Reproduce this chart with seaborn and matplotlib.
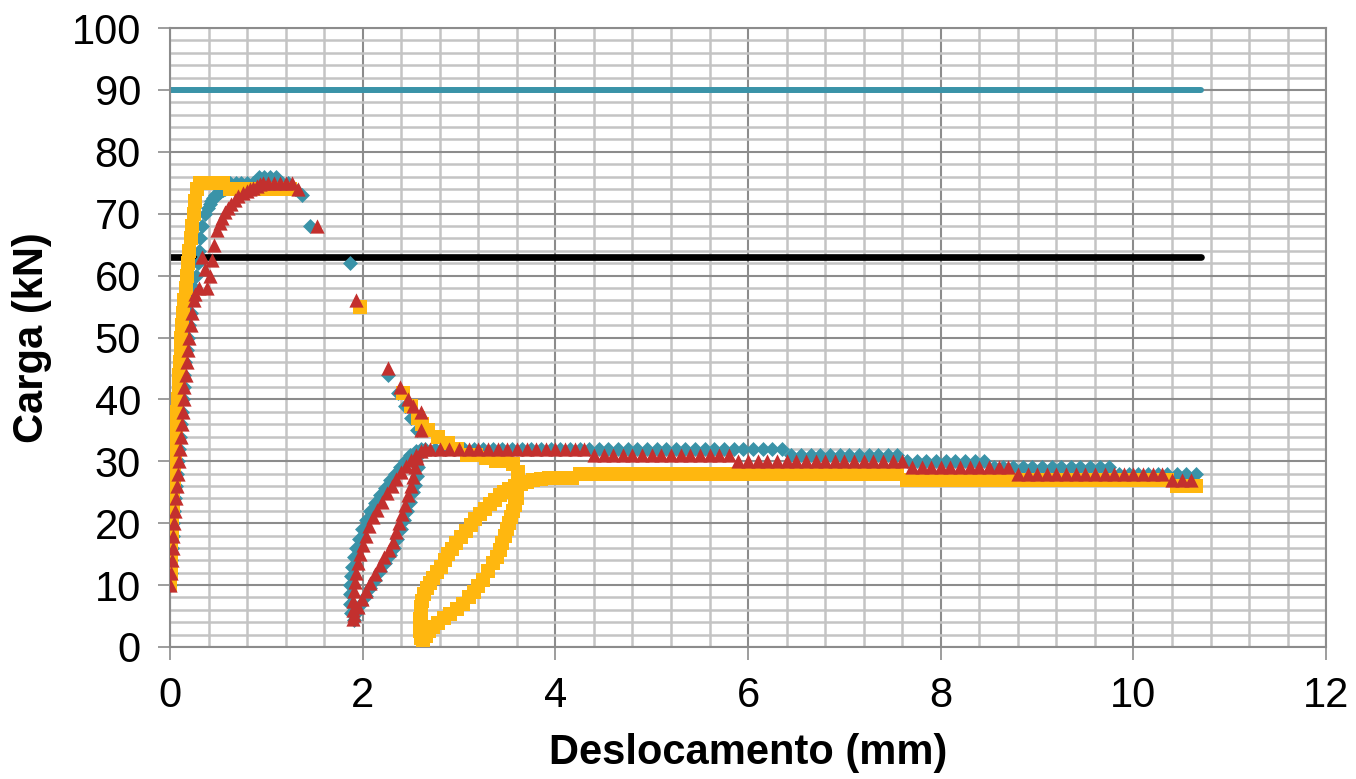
import seaborn as sns
import matplotlib.pyplot as plt
from matplotlib.ticker import MultipleLocator

# Carga x deslocamento - three specimens + reference levels

# specimen 1 (teal diamonds)
cp1_x = [0.0, 0.005, 0.01, 0.02, 0.03, 0.035, 0.045, 0.055, 0.065, 0.07, 0.08, 0.09, 0.1, 0.11, 0.12, 0.13,
         0.14, 0.15, 0.16, 0.175, 0.19, 0.2, 0.215, 0.23, 0.25, 0.27, 0.285, 0.3, 0.315, 0.335, 0.36, 0.39,
         0.41, 0.43, 0.45, 0.47, 0.495, 0.52, 0.545, 0.57, 0.595, 0.62, 0.68, 0.74, 0.8, 0.86, 0.92, 0.98,
         1.04, 1.1, 1.16, 1.22, 1.3,
         1.37, 1.45, 1.87, 2.26, 2.37, 2.44, 2.5, 2.56,
         2.58, 2.57, 2.56, 2.54, 2.52, 2.49, 2.46, 2.43, 2.4, 2.36, 2.32, 2.28, 2.23, 2.18, 2.13, 2.08,
         2.03, 1.98, 1.94, 1.91,
         1.88, 1.87, 1.87, 1.87, 1.88, 1.89, 1.91, 1.93, 1.96, 1.99, 2.03, 2.08, 2.13, 2.18, 2.23, 2.28,
         2.33, 2.39, 2.44, 2.49, 2.55, 2.6,
         2.65, 2.75, 2.85, 2.95, 3.05, 3.15, 3.25, 3.35, 3.45, 3.55, 3.65, 3.75, 3.85, 3.95, 4.05, 4.15,
         4.25, 4.35, 4.45, 4.55, 4.65, 4.75, 4.85, 4.95, 5.05, 5.15, 5.25, 5.35, 5.45, 5.55, 5.65, 5.75,
         5.85, 5.95, 6.05, 6.15, 6.25, 6.35,
         6.45, 6.55, 6.65, 6.75, 6.85, 6.95, 7.05, 7.15, 7.25, 7.35, 7.45, 7.55,
         7.65, 7.75, 7.85, 7.95, 8.05, 8.15, 8.25, 8.35, 8.45,
         8.55, 8.65, 8.75, 8.85, 8.95, 9.05, 9.15, 9.25, 9.35, 9.45, 9.55, 9.65, 9.75,
         9.85, 9.95, 10.05, 10.15, 10.25, 10.35, 10.45, 10.55, 10.65]
cp1_y = [10, 12, 14, 16, 18, 20, 22, 24, 26, 28, 30, 32, 34, 36, 38, 40,
         42, 44, 46, 48, 50, 52, 54, 56, 58, 60, 62, 64, 66, 68, 70, 71,
         71.5, 72, 72.5, 73, 73.2, 73.5, 73.8, 74, 74.5, 75, 75, 75, 75, 75, 76, 76,
         76, 76, 75, 75, 74,
         73, 68, 62, 44, 41, 39, 37, 35,
         31, 29, 27.6, 26.2, 25, 23.5, 22, 20.5, 19, 17.5, 16, 14.8, 13.5, 12.2, 10.8, 9.5,
         8.2, 6.9, 5.6, 4.3,
         5.5, 7, 8.5, 10, 11.5, 13, 14.5, 16, 17.5, 19, 20.5, 22, 23.3, 24.5, 25.7, 27,
         28, 29.1, 30.1, 31, 31.7, 32,
         32, 32, 32, 32, 32, 32, 32, 32, 32, 32, 32, 32, 32, 32, 32, 32,
         32, 32, 32, 32, 32, 32, 32, 32, 32, 32, 32, 32, 32, 32, 32, 32,
         32, 32, 32, 32, 32, 32,
         31, 31, 31, 31, 31, 31, 31, 31, 31, 31, 31, 31,
         30, 30, 30, 30, 30, 30, 30, 30, 30,
         29, 29, 29, 29, 29, 29, 29, 29, 29, 29, 29, 29, 29,
         28, 28, 28, 28, 28, 28, 28, 28, 28]

# specimen 2 (yellow squares)
cp2_x = [0.0, 0.005, 0.01, 0.015, 0.02, 0.025, 0.03, 0.035, 0.04, 0.045, 0.05, 0.055, 0.06, 0.07, 0.075, 0.08,
         0.09, 0.095, 0.1, 0.11, 0.115, 0.125, 0.13, 0.15, 0.165, 0.175, 0.19, 0.2, 0.215, 0.23, 0.245, 0.26,
         0.28, 0.31, 0.37, 0.43, 0.49, 0.55, 0.62, 0.7, 0.78, 0.86, 0.94, 1.02, 1.1, 1.18, 1.25,
         1.97, 2.42, 2.5, 2.57, 2.62, 2.68, 2.78, 2.88, 2.98, 3.08, 3.18, 3.28, 3.38, 3.48, 3.56, 3.61,
         3.6, 3.58, 3.56, 3.54, 3.52, 3.5, 3.48, 3.45, 3.42, 3.39, 3.35, 3.3, 3.25, 3.2, 3.15, 3.1,
         3.04, 2.98, 2.91, 2.84, 2.78, 2.73, 2.69, 2.66, 2.63,
         2.6, 2.59, 2.59, 2.59, 2.6, 2.61, 2.62, 2.64, 2.67, 2.7, 2.73, 2.77, 2.81, 2.85, 2.89, 2.93,
         2.97, 3.02, 3.07, 3.12, 3.17, 3.22, 3.27, 3.32, 3.37, 3.42, 3.47, 3.52, 3.58, 3.64, 3.7, 3.77,
         3.85, 3.93, 4.01, 4.09, 4.17,
         4.25, 4.35, 4.45, 4.55, 4.65, 4.75, 4.85, 4.95, 5.05, 5.15, 5.25, 5.35, 5.45, 5.55, 5.65, 5.75,
         5.85, 5.95, 6.05, 6.15, 6.25, 6.35, 6.45, 6.55, 6.65, 6.75, 6.85, 6.95, 7.05, 7.15, 7.25, 7.35,
         7.45, 7.55,
         7.65, 7.75, 7.85, 7.95, 8.05, 8.15, 8.25, 8.35, 8.45, 8.55, 8.65, 8.75, 8.85, 8.95, 9.05, 9.15,
         9.25, 9.35, 9.45, 9.55, 9.65, 9.75, 9.85, 9.95, 10.05, 10.15, 10.25, 10.35,
         10.45, 10.55, 10.65]
cp2_y = [10, 12, 14, 16, 18, 20, 22, 24, 26, 28, 30, 32, 34, 36, 38, 40,
         42, 44, 46, 48, 50, 52, 54, 56, 58, 60, 62, 64, 66, 68, 70, 72,
         74, 75, 75, 75, 75, 75, 74, 74, 74, 74, 74, 74, 74, 74, 74,
         55, 41, 39, 37, 36, 35, 34, 33, 32, 31, 31, 30.5, 30, 30, 29.5, 28.3,
         24, 23, 22, 21, 20, 19, 18, 16.8, 15.7, 14.6, 13.5, 12.2, 10.8, 9.8, 8.9, 8.1,
         7, 6.1, 5.4, 4.7, 3.9, 3.2, 2.5, 1.8, 1.2,
         1.5, 2.5, 3.5, 4.5, 5.5, 6.5, 7.5, 8.5, 9.5, 10.4, 11.2, 12.1, 13, 14, 15, 15.9,
         16.8, 17.8, 18.8, 19.7, 20.6, 21.5, 22.3, 23.1, 23.8, 24.5, 25.1, 25.6, 26, 26.4, 26.7, 27,
         27.2, 27.3, 27.3, 27.3, 27.3,
         28, 28, 28, 28, 28, 28, 28, 28, 28, 28, 28, 28, 28, 28, 28, 28,
         28, 28, 28, 28, 28, 28, 28, 28, 28, 28, 28, 28, 28, 28, 28, 28,
         28, 28,
         27, 27, 27, 27, 27, 27, 27, 27, 27, 27, 27, 27, 27, 27, 27, 27,
         27, 27, 27, 27, 27, 27, 27, 27, 27, 27, 27, 27,
         26, 26, 26]

# specimen 3 (red triangles)
cp3_x = [0.0, 0.01, 0.02, 0.03, 0.035, 0.045, 0.055, 0.065, 0.075, 0.085, 0.095, 0.1, 0.11, 0.12, 0.13, 0.14,
         0.15, 0.165, 0.175, 0.19, 0.2, 0.215, 0.23, 0.245, 0.26, 0.3, 0.33, 0.36, 0.38, 0.41, 0.44, 0.46,
         0.49, 0.52, 0.54, 0.57, 0.6, 0.63, 0.67, 0.71, 0.76, 0.8, 0.83, 0.86, 0.9, 0.93, 0.96, 1.02,
         1.08, 1.14, 1.2, 1.27, 1.33, 1.53, 1.93,
         2.26, 2.39, 2.47, 2.52, 2.6, 2.61,
         2.56, 2.54, 2.52, 2.5, 2.47, 2.44, 2.41, 2.38, 2.35, 2.31, 2.27, 2.22, 2.18, 2.13, 2.08, 2.03,
         1.99, 1.95, 1.91, 1.9,
         1.9, 1.9, 1.91, 1.92, 1.93, 1.95, 1.97, 2.0, 2.03, 2.07, 2.11, 2.15, 2.2, 2.25, 2.3, 2.35,
         2.4, 2.45, 2.5, 2.55, 2.6, 2.65,
         2.7, 2.8, 2.9, 3.0, 3.1, 3.2, 3.3, 3.4, 3.5, 3.6, 3.7, 3.8, 3.9, 4.0, 4.1, 4.2, 4.3,
         4.4, 4.5, 4.6, 4.7, 4.8, 4.9, 5.0, 5.1, 5.2, 5.3, 5.4, 5.5, 5.6, 5.7, 5.8,
         5.9, 6.0, 6.1, 6.2, 6.3, 6.4, 6.5, 6.6, 6.7, 6.8, 6.9, 7.0, 7.1, 7.2, 7.3, 7.4, 7.5, 7.6,
         7.7, 7.8, 7.9, 8.0, 8.1, 8.2, 8.3, 8.4, 8.5, 8.6, 8.7,
         8.8, 8.9, 9.0, 9.1, 9.2, 9.3, 9.4, 9.5, 9.6, 9.7, 9.8, 9.9, 10.0, 10.1, 10.2, 10.3,
         10.4, 10.5, 10.6]
cp3_y = [10, 12, 14, 16, 18, 20, 22, 24, 26, 28, 30, 32, 34, 36, 38, 40,
         42, 44, 46, 48, 50, 52, 54, 56, 57, 58, 63, 61, 58, 60, 62.5, 65,
         67.4, 68.5, 69.3, 70.2, 70.9, 71.6, 72.2, 72.8, 73.3, 73.7, 74, 74.2, 74.5, 74.8, 75, 75,
         75, 75, 75, 75, 74, 68, 56,
         45, 42, 40, 39, 38, 35,
         30.5, 29, 27.5, 26, 24.5, 23, 21.5, 20, 18.5, 17, 15.7, 14.5, 13.2, 11.8, 10.4, 9,
         7.8, 6.5, 5.2, 4.5,
         6, 7.5, 9, 10.5, 12, 13.5, 15, 16.5, 18, 19.5, 21, 22.2, 23.5, 24.8, 26, 27.2,
         28.3, 29.3, 30.2, 31, 31.6, 32,
         32, 32, 32, 32, 32, 32, 32, 32, 32, 32, 32, 32, 32, 32, 32, 32, 32,
         31, 31, 31, 31, 31, 31, 31, 31, 31, 31, 31, 31, 31, 31, 31,
         30, 30, 30, 30, 30, 30, 30, 30, 30, 30, 30, 30, 30, 30, 30, 30, 30, 30,
         29, 29, 29, 29, 29, 29, 29, 29, 29, 29, 29,
         28, 28, 28, 28, 28, 28, 28, 28, 28, 28, 28, 28, 28, 28, 28, 28,
         27, 27, 27]

# reference load levels
ref_x = [0.0, 10.7]
ref_teal_y = [90, 90]
ref_black_y = [63, 63]

teal = "#3A93A8"
yellow = "#FFB70F"
red = "#C3302E"

sns.set_theme(style="white")
plt.rcParams["font.family"] = ["Liberation Sans", "DejaVu Sans"]

fig, ax = plt.subplots(figsize=(13.56, 7.79), dpi=100)
fig.subplots_adjust(left=0.1254, right=0.978, top=0.964, bottom=0.1695)

sns.lineplot(x=ref_x, y=ref_teal_y, color=teal, linewidth=4.3, ax=ax,
             solid_capstyle="round", zorder=2)
sns.lineplot(x=ref_x, y=ref_black_y, color="black", linewidth=4.8, ax=ax, zorder=2)

sns.scatterplot(x=cp1_x, y=cp1_y, marker="D", color=teal, s=58, linewidth=0, ax=ax, zorder=3)
sns.scatterplot(x=cp2_x, y=cp2_y, marker="s", color=yellow, s=100, linewidth=0, ax=ax, zorder=4)
sns.scatterplot(x=cp3_x, y=cp3_y, marker="^", color=red, s=105, linewidth=0, ax=ax, zorder=5)

ax.set_xlim(0, 12)
ax.set_ylim(0, 100)
ax.xaxis.set_major_locator(MultipleLocator(2))
ax.xaxis.set_minor_locator(MultipleLocator(0.4))
ax.yaxis.set_major_locator(MultipleLocator(10))
ax.yaxis.set_minor_locator(MultipleLocator(2))

ax.grid(which="minor", color="#c4c4c4", linewidth=1.8, zorder=0)
ax.grid(which="major", color="#8c8c8c", linewidth=1.5, zorder=1)
ax.set_axisbelow(True)

for sp in ax.spines.values():
    sp.set_color("#8c8c8c")
    sp.set_linewidth(1.5)

ax.tick_params(axis="both", which="major", direction="out", length=9, width=1.2,
               color="#8c8c8c", labelsize=30, labelcolor="black", pad=12,
               left=True, bottom=True)
ax.tick_params(axis="both", which="minor", length=0)

ax.set_xlabel("Deslocamento (mm)", fontsize=30, fontweight="bold", color="black", labelpad=12)
ax.set_ylabel("Carga (kN)", fontsize=30, fontweight="bold", color="black", labelpad=14)

plt.savefig("out.png", dpi=100)
